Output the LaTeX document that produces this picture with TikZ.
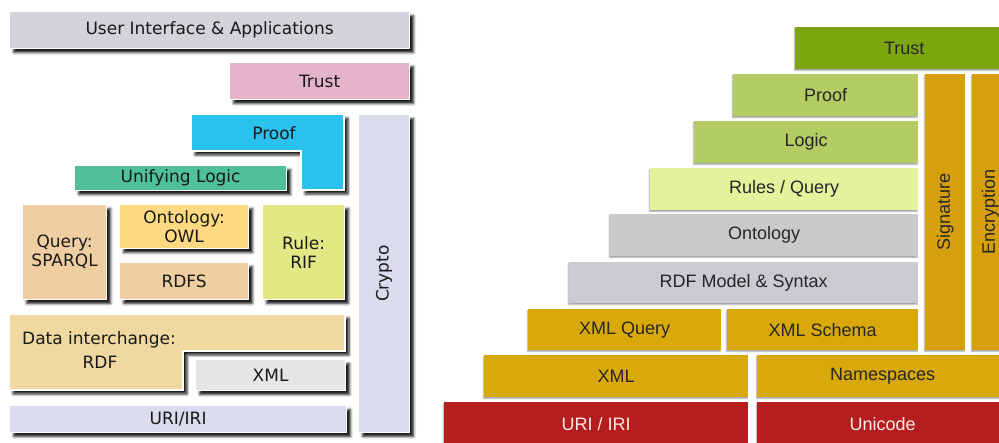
\documentclass[tikz,border=0pt]{standalone}
\usepackage{fontspec}
\newfontfamily\verdanalike{DejaVu Sans}
\newfontfamily\ariallike{Liberation Sans}
\usetikzlibrary{shadows.blur}
\definecolor{uigray}{HTML}{D3D3D9}
\definecolor{trustpink}{HTML}{E4B4C8}
\definecolor{proofcyan}{HTML}{2BC1EE}
\definecolor{logicgreen}{HTML}{50BF9C}
\definecolor{querytan}{HTML}{EFCFA1}
\definecolor{owlyellow}{HTML}{FDD981}
\definecolor{rulelime}{HTML}{E2E884}
\definecolor{rdfsand}{HTML}{EFD9A0}
\definecolor{xmlgray}{HTML}{E6E6E6}
\definecolor{urililac}{HTML}{DBDBEE}
\definecolor{rtrust}{HTML}{7CA60E}
\definecolor{rproof}{HTML}{B3CC64}
\definecolor{rrules}{HTML}{E3F29B}
\definecolor{rgray}{HTML}{CACACC}
\definecolor{rgraymodel}{HTML}{CBCBD0}
\definecolor{rgold}{HTML}{D9A80A}
\definecolor{rgoldsig}{HTML}{D5A00C}
\definecolor{rred}{HTML}{B41E1E}
\tikzset{
	lbox/.style={draw=white, line width=1.2pt, inner sep=0pt, anchor=north west,
		font=\verdanalike\fontsize{17}{19}\selectfont, text=black!90, align=center,
		blur shadow={shadow xshift=4pt, shadow yshift=-4pt, shadow blur radius=2.5pt, shadow opacity=90}},
	lshape/.style={draw=white, line width=1.2pt,
		blur shadow={shadow xshift=4pt, shadow yshift=-4pt, shadow blur radius=2.5pt, shadow opacity=90}},
	ltext/.style={font=\verdanalike\fontsize{17}{19}\selectfont, text=black!90, inner sep=0pt},
	rbox/.style={draw=none, inner sep=0pt, anchor=north west,
		font=\ariallike\fontsize{18}{20}\selectfont, text=black!85,
		blur shadow={shadow xshift=-1pt, shadow yshift=-1.5pt, shadow blur radius=1pt, shadow opacity=35}},
	rtext/.style={font=\ariallike\fontsize{18}{20}\selectfont, text=black!85, inner sep=0pt},
}
\begin{document}
\begin{tikzpicture}[x=1pt, y=-1pt]
	\useasboundingbox (0,0) rectangle (999,442);
	\clip (0,0) rectangle (999,442);
	
	\node [lbox, fill=uigray, minimum width=400pt, minimum height=37pt] (ui) at (9,11) {User Interface \& Applications};
	\node [lbox, fill=trustpink, minimum width=180pt, minimum height=37pt] (trust) at (229,62) {Trust};
	\node [lbox, fill=urililac, minimum width=51pt, minimum height=318pt] (crypto) at (358,114) {};
	\node [ltext, rotate=90] (cryptotext) at (crypto.center) {Crypto};
	
	\path [lshape, fill=proofcyan] (191,114) -- (344,114) -- (344,190) -- (301,190) -- (301,151) -- (191,151) -- cycle;
	\node [ltext] (proof) at (274,133) {Proof};
	\node [lbox, fill=logicgreen, minimum width=212pt, minimum height=25pt] (unifying) at (74,165) {Unifying Logic};
	
	\node [lbox, fill=querytan, minimum width=84pt, minimum height=95pt] (query) at (22,204) {Query:\\SPARQL};
	\node [lbox, fill=owlyellow, minimum width=129pt, minimum height=44pt] (owl) at (119,204) {Ontology:\\OWL};
	\node [lbox, fill=querytan, minimum width=129pt, minimum height=37pt] (rdfs) at (119,262) {RDFS};
	\node [lbox, fill=rulelime, minimum width=82pt, minimum height=95pt] (rif) at (262,204) {Rule:\\RIF};
	
	\path [lshape, fill=rdfsand] (9,314) -- (345,314) -- (345,351) -- (183,351) -- (183,390) -- (9,390) -- cycle;
	\node [ltext, align=left, anchor=west] (rdf) at (22,340) {Data interchange:};
	\node [ltext] (rdfname) at (100,362) {RDF};
	\node [lbox, fill=xmlgray, minimum width=150pt, minimum height=31pt] (xml) at (195,359) {XML};
	\node [lbox, fill=urililac, minimum width=337pt, minimum height=27pt] (uri) at (9,405) {URI/IRI};
	
	\node [rbox, fill=rtrust, minimum width=218pt, minimum height=42pt] (rtrust) at (795,27) {Trust};
	\node [rbox, fill=rproof, minimum width=185pt, minimum height=42pt] (rproof) at (733,74) {Proof};
	\node [rbox, fill=rproof, minimum width=224pt, minimum height=42pt] (rlogic) at (694,121) {Logic};
	\node [rbox, fill=rrules, minimum width=268pt, minimum height=42pt] (rrules) at (650,168) {Rules / Query};
	\node [rbox, fill=rgray, minimum width=308pt, minimum height=42pt] (ronto) at (610,214) {Ontology};
	\node [rbox, fill=rgraymodel, minimum width=349pt, minimum height=41pt] (rrdf) at (569,262) {RDF Model \& Syntax};
	\node [rbox, fill=rgold, minimum width=193pt, minimum height=41pt] (rxmlq) at (528,309) {XML Query};
	\node [rbox, fill=rgold, minimum width=191pt, minimum height=41pt] (rxmls) at (727,309) {XML Schema};
	\node [rbox, fill=rgoldsig, minimum width=40pt, minimum height=276pt] (rsig) at (925,74) {};
	\node [rbox, fill=rgoldsig, minimum width=36pt, minimum height=276pt] (renc) at (972,74) {};
	\node [rtext, rotate=90] (rsigtext) at (rsig.center) {Signature};
	\node [rtext, rotate=90] (renctext) at (renc.center) {Encryption};
	\node [rbox, fill=rgold, minimum width=264pt, minimum height=42pt] (rxml) at (484,355) {XML};
	\node [rbox, fill=rgold, minimum width=251pt, minimum height=42pt] (rns) at (757,355) {Namespaces};
	\node [rbox, fill=rred, text=white!92!red, minimum width=304pt, minimum height=44pt] (ruri) at (444,402) {URI / IRI};
	\node [rbox, fill=rred, text=white!92!red, minimum width=251pt, minimum height=44pt] (runi) at (757,402) {Unicode};
\end{tikzpicture}
\end{document}
